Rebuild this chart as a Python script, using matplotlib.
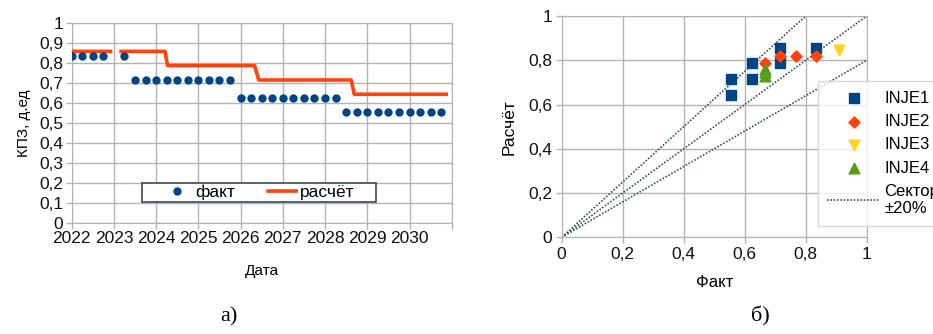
import matplotlib
matplotlib.use("Agg")
import matplotlib.pyplot as plt
from matplotlib.patches import Rectangle
from matplotlib.ticker import FuncFormatter
import numpy as np

plt.rcParams["font.family"] = ["Liberation Sans", "DejaVu Sans"]

BLUE = "#004586"
ORANGE = "#ff420e"
YELLOW = "#ffd320"
GREEN = "#579d1c"
GRID = "#b3b3b3"
SECTOR = "#355555"

# --- (a) КПЗ по годам: факт (квартальные точки) и расчёт (ступенчатая линия)
fact_t = [2022.0, 2022.25, 2022.5, 2022.75, 2023.25,
          2023.5, 2023.75, 2024.0, 2024.25, 2024.5, 2024.75, 2025.0, 2025.25, 2025.5, 2025.75,
          2026.0, 2026.25, 2026.5, 2026.75, 2027.0, 2027.25, 2027.5, 2027.75, 2028.0, 2028.25,
          2028.5, 2028.75, 2029.0, 2029.25, 2029.5, 2029.75, 2030.0, 2030.25, 2030.5, 2030.75]
fact_v = [0.833] * 5 + [0.714] * 10 + [0.625] * 10 + [0.556] * 10

calc_t = [2022.0, 2022.92, np.nan, 2023.17, 2024.21, 2024.27, 2026.33,
          2026.43, 2028.62, 2028.69, 2030.87]
calc_v = [0.857, 0.857, np.nan, 0.857, 0.857, 0.786, 0.786,
          0.714, 0.714, 0.643, 0.643]

years = list(range(2022, 2031))

# --- (б) расчёт против факта по скважинам
inje1_x = [0.556, 0.556, 0.625, 0.625, 0.714, 0.714, 0.833]
inje1_y = [0.714, 0.643, 0.786, 0.714, 0.857, 0.786, 0.857]
inje2_x = [0.667, 0.714, 0.769, 0.833]
inje2_y = [0.786, 0.821, 0.821, 0.821]
inje3_x = [0.909]
inje3_y = [0.846]
inje4_x = [0.667, 0.667, 0.667]
inje4_y = [0.760, 0.745, 0.729]
sector_lo = 0.8   # нижняя граница: расчёт = 0.8 * факт
sector_hi = 1.25  # верхняя граница: расчёт = факт / 0.8

comma = FuncFormatter(lambda v, _: f"{v:g}".replace(".", ","))

fig = plt.figure(figsize=(9.33, 3.34), dpi=100)


def style_axes(ax):
    ax.grid(True, color=GRID, linewidth=1)
    ax.set_axisbelow(True)
    for s in ax.spines.values():
        s.set_color(GRID)
    ax.tick_params(colors=GRID, labelcolor="#111111", labelsize=12.5, length=4, width=1)


# ── (a) ──────────────────────────────────────────────────────────────────────
ax1 = fig.add_axes([0.0768, 0.3323, 0.4074, 0.5997])
style_axes(ax1)
ax1.plot(calc_t, calc_v, color=ORANGE, linewidth=2.6, label="расчёт", zorder=3)
ax1.plot(fact_t, fact_v, linestyle="none", marker="o", markersize=5,
         color=BLUE, label="факт", zorder=4)
ax1.set_xlim(2022, 2031)
ax1.set_ylim(0, 1)
ax1.set_xticks(list(range(2022, 2032)))
ax1.set_xticklabels([str(y) for y in years] + [""])
ax1.set_yticks(np.arange(0, 1.01, 0.1))
ax1.yaxis.set_major_formatter(comma)
ax1.tick_params(axis="y", pad=2)
ax1.tick_params(axis="x", pad=2)
ax1.set_ylabel("КПЗ, д.ед", fontsize=11, labelpad=6)
ax1.set_xlabel("Дата", fontsize=11, labelpad=13)

# легенда с широкой рамкой, как в офисных диаграммах
ax1.add_patch(Rectangle((0.184, 0.103), 0.617, 0.095, transform=ax1.transAxes,
                        facecolor="white", edgecolor="#3b4a55", linewidth=1.2, zorder=5))
h, l = ax1.get_legend_handles_labels()
leg1 = ax1.legend(h[::-1], l[::-1], ncol=2, loc="center",
                  bbox_to_anchor=(0.493, 0.152), fontsize=12.5, frameon=False,
                  borderpad=0, handlelength=1.6, columnspacing=1.9,
                  handletextpad=0.25, borderaxespad=0)
leg1.set_zorder(6)

# ── (б) ──────────────────────────────────────────────────────────────────────
ax2 = fig.add_axes([0.602, 0.2895, 0.327, 0.6626])
style_axes(ax2)
ax2.scatter(inje1_x, inje1_y, marker="s", s=48, color=BLUE, label="INJE1", zorder=4)
ax2.scatter(inje2_x, inje2_y, marker="D", s=32, color=ORANGE, label="INJE2", zorder=4)
ax2.scatter(inje3_x, inje3_y, marker="v", s=60, color=YELLOW, label="INJE3", zorder=4)
ax2.scatter(inje4_x, inje4_y, marker="^", s=60, color=GREEN, label="INJE4", zorder=4)
ax2.plot([0, 1 / sector_hi], [0, 1], color=SECTOR, linestyle=(0, (1, 1)),
         linewidth=1.2, label="Сектор\n±20%")
ax2.plot([0, 1], [0, 1], color=SECTOR, linestyle=(0, (1, 1)), linewidth=1.2)
ax2.plot([0, 1], [0, sector_lo], color=SECTOR, linestyle=(0, (1, 1)), linewidth=1.2)
ax2.set_xlim(0, 1)
ax2.set_ylim(0, 1)
ax2.set_xticks(np.arange(0, 1.01, 0.2))
ax2.set_yticks(np.arange(0, 1.01, 0.2))
ax2.xaxis.set_major_formatter(comma)
ax2.yaxis.set_major_formatter(comma)
ax2.tick_params(labelsize=12.5, pad=3)
ax2.set_xlabel("Факт", fontsize=12, labelpad=9)
ax2.set_ylabel("Расчёт", fontsize=12.5, labelpad=8)
leg2 = fig.legend(*ax2.get_legend_handles_labels(), loc="upper left",
                  bbox_to_anchor=(0.8765, 0.756), fontsize=12, frameon=True,
                  fancybox=False, borderpad=0.55, labelspacing=0.5,
                  handlelength=3.2, handletextpad=0.25, borderaxespad=0)
leg2.get_frame().set_edgecolor("#d0d0d0")
leg2.get_frame().set_linewidth(1)

# подписи панелей
fig.text(0.245, 0.037, "а)", fontsize=16, family=["Liberation Serif", "DejaVu Serif"],
         ha="center", va="baseline")
fig.text(0.8145, 0.037, "б)", fontsize=16, family=["Liberation Serif", "DejaVu Serif"],
         ha="center", va="baseline")

fig.savefig("out.png", dpi=100)
